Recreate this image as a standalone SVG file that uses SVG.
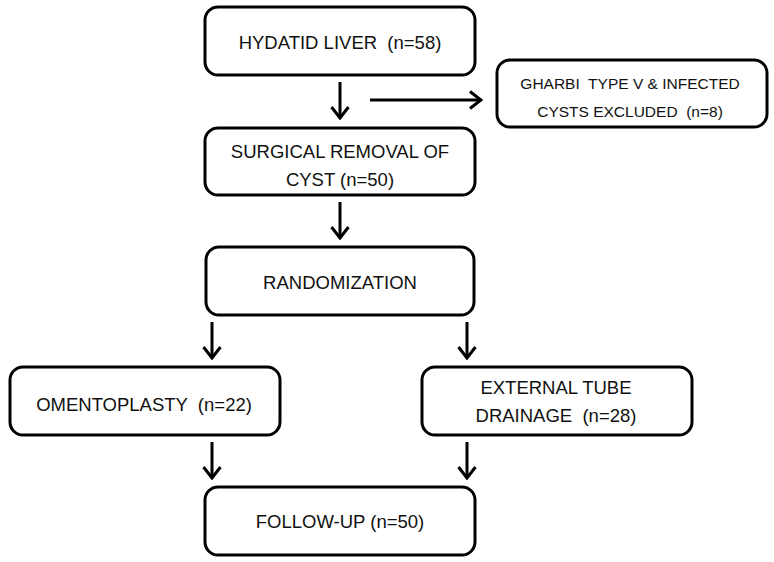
<svg xmlns="http://www.w3.org/2000/svg" width="774" height="562" viewBox="0 0 774 562">
<defs>
<style>
.box{fill:#fff;stroke:#000;stroke-width:3}
.t{font-family:"Liberation Sans",Arial,sans-serif;font-size:18.5px;fill:#111;text-anchor:middle;white-space:pre}
.s{font-size:15.5px}
.c{stroke:#000;stroke-width:3;fill:none}
</style>
<marker id="ah" markerUnits="userSpaceOnUse" viewBox="0 0 14 20" refX="12" refY="10" markerWidth="14" markerHeight="20" orient="auto">
<path d="M1,1.5 L12,10 L1,18.5" fill="none" stroke="#000" stroke-width="3"/>
</marker>
</defs>
<rect width="774" height="562" fill="#fff"/>
<g id="connectors">
<line class="c" x1="340" y1="82" x2="340" y2="118" marker-end="url(#ah)"/>
<line class="c" x1="370" y1="100" x2="481" y2="100" marker-end="url(#ah)"/>
<line class="c" x1="340" y1="202" x2="340" y2="238" marker-end="url(#ah)"/>
<line class="c" x1="212" y1="322" x2="212" y2="358" marker-end="url(#ah)"/>
<line class="c" x1="467" y1="322" x2="467" y2="358" marker-end="url(#ah)"/>
<line class="c" x1="212" y1="442" x2="212" y2="478" marker-end="url(#ah)"/>
<line class="c" x1="467" y1="442" x2="467" y2="478" marker-end="url(#ah)"/>
</g>
<g id="hydatid">
<rect class="box" x="205" y="7" width="270" height="68" rx="13"/>
<text class="t" x="340" y="49" xml:space="preserve">HYDATID LIVER  (n=58)</text>
</g>
<g id="excluded">
<rect class="box" x="497" y="60" width="270" height="67" rx="13"/>
<text class="t s" x="630" y="89" xml:space="preserve">GHARBI  TYPE V &amp; INFECTED</text>
<text class="t s" x="630" y="117" xml:space="preserve">CYSTS EXCLUDED  (n=8)</text>
</g>
<g id="surgical">
<rect class="box" x="205" y="128" width="270" height="67" rx="13"/>
<text class="t" x="340" y="158">SURGICAL REMOVAL OF</text>
<text class="t" x="340" y="186">CYST (n=50)</text>
</g>
<g id="randomization">
<rect class="box" x="206" y="247" width="268" height="68" rx="13"/>
<text class="t" x="340" y="289">RANDOMIZATION</text>
</g>
<g id="omentoplasty">
<rect class="box" x="10" y="367" width="270" height="68" rx="13"/>
<text class="t" x="144" y="411" xml:space="preserve">OMENTOPLASTY  (n=22)</text>
</g>
<g id="drainage">
<rect class="box" x="422" y="367" width="270" height="68" rx="13"/>
<text class="t" x="556" y="394">EXTERNAL TUBE</text>
<text class="t" x="556" y="422" xml:space="preserve">DRAINAGE  (n=28)</text>
</g>
<g id="followup">
<rect class="box" x="205" y="487" width="270" height="68" rx="13"/>
<text class="t" x="340" y="528">FOLLOW-UP (n=50)</text>
</g>
</svg>
